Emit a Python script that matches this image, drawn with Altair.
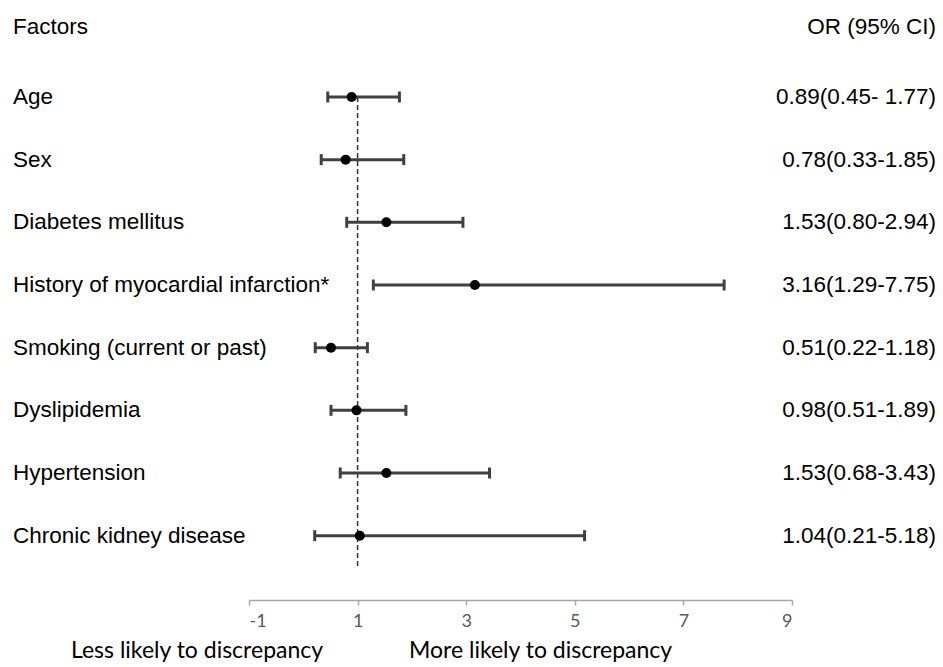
import altair as alt
import pandas as pd

factors = [
    "Age",
    "Sex",
    "Diabetes mellitus",
    "History of myocardial infarction*",
    "Smoking (current or past)",
    "Dyslipidemia",
    "Hypertension",
    "Chronic kidney disease",
]
or_values = [0.89, 0.78, 1.53, 3.16, 0.51, 0.98, 1.53, 1.04]
ci_low = [0.45, 0.33, 0.80, 1.29, 0.22, 0.51, 0.68, 0.21]
ci_high = [1.77, 1.85, 2.94, 7.75, 1.18, 1.89, 3.43, 5.18]
or_labels = [
    "0.89(0.45- 1.77)",
    "0.78(0.33-1.85)",
    "1.53(0.80-2.94)",
    "3.16(1.29-7.75)",
    "0.51(0.22-1.18)",
    "0.98(0.51-1.89)",
    "1.53(0.68-3.43)",
    "1.04(0.21-5.18)",
]
x_ticks = [-1, 1, 3, 5, 7, 9]
reference_or = 1

rows = list(range(len(factors)))
df = pd.DataFrame({
    "factor": factors,
    "row": rows,
    "or": or_values,
    "lo": ci_low,
    "hi": ci_high,
    "label": or_labels,
})
caps_df = pd.DataFrame({
    "row": rows + rows,
    "val": ci_low + ci_high,
})
dashed_df = pd.DataFrame({"x": [reference_or], "y": [0.0], "y2": [7.5]})
header_df = pd.DataFrame({"t": ["Factors"], "t2": ["OR (95% CI)"], "row": [-1.12]})
bottom_df = pd.DataFrame({"t": ["Less likely to discrepancy"], "t2": ["More likely to discrepancy"]})

xscale = alt.Scale(domain=[-1, 9], nice=False, zero=False)
yscale = alt.Scale(domain=[-1.26, 8.026], nice=False, zero=False, reverse=True)

x_axis = alt.Axis(
    values=x_ticks, title=None, grid=False,
    labelExpr="'' + datum.value",
    domainColor="#A6A6A6", domainWidth=1.5,
    tickColor="#A6A6A6", tickWidth=1.5, tickSize=5,
    labelColor="#595959", labelFont="Lato", labelFontSize=18,
    labelPadding=7,
)


def X(field):
    return alt.X(field, scale=xscale, axis=x_axis)


def Y(field):
    return alt.Y(field, scale=yscale, axis=None)


LABEL_FONT = "Liberation Sans"
LABEL_SIZE = 22.5

dashed = alt.Chart(dashed_df).mark_rule(
    color="#333333", strokeWidth=1.5, strokeDash=[5, 3]
).encode(x=X("x:Q"), y=Y("y:Q"), y2="y2:Q")

bars = alt.Chart(df).mark_rule(color="#404040", strokeWidth=3).encode(
    x=X("lo:Q"), x2="hi:Q", y=Y("row:Q"),
)

caps = alt.Chart(caps_df).mark_tick(
    color="#404040", thickness=3, size=11, orient="vertical", opacity=1
).encode(x=X("val:Q"), y=Y("row:Q"))

dots = alt.Chart(df).mark_circle(size=100, color="black", opacity=1).encode(
    x=X("or:Q"), y=Y("row:Q"),
)

left_labels = alt.Chart(df).mark_text(
    align="left", baseline="middle", font=LABEL_FONT, fontSize=LABEL_SIZE, color="#000000"
).encode(x=alt.value(-236), y=Y("row:Q"), text="factor:N")

right_labels = alt.Chart(df).mark_text(
    align="right", baseline="middle", font=LABEL_FONT, fontSize=LABEL_SIZE, color="#000000"
).encode(x=alt.value(687), y=Y("row:Q"), text="label:N")

header_left = alt.Chart(header_df).mark_text(
    align="left", baseline="middle", font=LABEL_FONT, fontSize=LABEL_SIZE, color="#000000"
).encode(x=alt.value(-236), y=Y("row:Q"), text="t:N")

header_right = alt.Chart(header_df).mark_text(
    align="right", baseline="middle", font=LABEL_FONT, fontSize=LABEL_SIZE, color="#000000"
).encode(x=alt.value(687), y=Y("row:Q"), text="t2:N")

bottom_left = alt.Chart(bottom_df).mark_text(
    align="left", baseline="middle", font="Lato", fontSize=23, color="#000000"
).encode(x=alt.value(-178), y=alt.value(633), text="t:N")

bottom_right = alt.Chart(bottom_df).mark_text(
    align="left", baseline="middle", font="Lato", fontSize=23, color="#000000"
).encode(x=alt.value(160), y=alt.value(633), text="t2:N")

chart = alt.layer(
    dashed, bars, caps, dots, left_labels, right_labels,
    header_left, header_right, bottom_left, bottom_right,
).properties(
    width=543,
    height=582,
    padding={"left": 241, "top": 10, "right": 143, "bottom": 66},
    autosize=alt.AutoSizeParams(type="none"),
    background="white",
).configure_view(strokeWidth=0)

chart.save("out.html", embed_options={"renderer": "svg", "actions": False})
